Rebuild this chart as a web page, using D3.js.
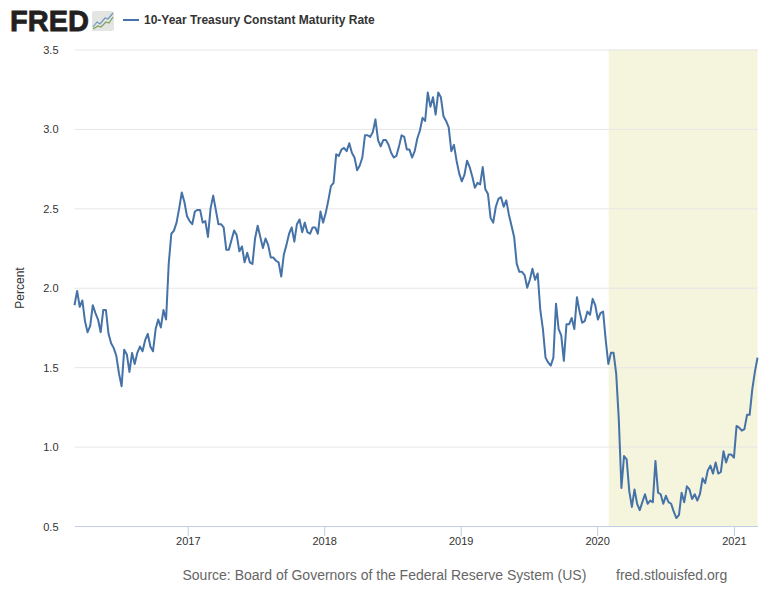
<!DOCTYPE html>
<html>
<head>
<meta charset="utf-8">
<script src="https://cdn.jsdelivr.net/npm/d3@7"></script>
<style>
  html, body { margin: 0; padding: 0; background: #fff; }
  text { font-family: "Liberation Sans", Arial, sans-serif; }
  .tick text { font-size: 11px; fill: #333; }
</style>
</head>
<body>
<div id="graph"></div>
<script>
// weekly readings, first one is the Friday below
const firstWeek = "2016-03-04";
const seriesName = "10-Year Treasury Constant Maturity Rate";
const values2016 = [1.89,1.98,1.88,1.92,1.79,1.72,1.76,1.89,1.84,1.80,
  1.72,1.86,1.86,1.71,1.65,1.62,1.57,1.46,1.38,1.61,
  1.58,1.47,1.59,1.52,1.59,1.63,1.60,1.67,1.71,1.63,
  1.60,1.74,1.80,1.75,1.86,1.80,2.15,2.34,2.36,2.41,2.50];
const values2017 = [2.60,2.54,2.45,2.42,2.40,2.48,2.49,2.49,2.41,2.42,
  2.32,2.50,2.58,2.49,2.40,2.40,2.38,2.24,2.24,2.30,
  2.36,2.33,2.23,2.26,2.16,2.22,2.16,2.15,2.31,2.39,
  2.32,2.25,2.31,2.27,2.19,2.19,2.17,2.16,2.07,2.21,
  2.27,2.34,2.38,2.29,2.40,2.43,2.35,2.41,2.35,2.34,
  2.38,2.38,2.34,2.48,2.41,2.47,2.55,2.64,2.66];
const values2018 = [2.84,2.83,2.87,2.88,2.86,2.91,2.85,2.82,2.74,2.77,
  2.82,2.96,2.96,2.95,2.98,3.06,2.93,2.89,2.93,2.93,
  2.90,2.85,2.82,2.83,2.89,2.96,2.95,2.87,2.87,2.82,
  2.86,2.94,2.99,3.07,3.05,3.23,3.14,3.20,3.09,3.23,
  3.20,3.08,3.05,3.01,2.86,2.90,2.80,2.72,2.67,2.71,
  2.80,2.76,2.70,2.63,2.66,2.65,2.76,2.62,2.59];
const values2019 = [2.44,2.41,2.51,2.56,2.57,2.51,2.55,2.46,2.39,2.32,
  2.15,2.10,2.10,2.08,2.00,2.05,2.12,2.05,2.09,1.86,
  1.74,1.56,1.53,1.51,1.56,1.90,1.74,1.70,1.54,1.77,
  1.77,1.81,1.74,1.94,1.85,1.78,1.79,1.85,1.83,1.93,
  1.89,1.80,1.84,1.85,1.67];
const values2020 = [1.52,1.59,1.59,1.46,1.17,0.74,0.94,0.92,0.72,0.62,
  0.73,0.64,0.60,0.65,0.70,0.64,0.66,0.65,0.91,0.71,
  0.70,0.64,0.69,0.65,0.64,0.59,0.55,0.57,0.71,0.65,
  0.75,0.73,0.67,0.70,0.66,0.70,0.80,0.77,0.85,0.88,
  0.83,0.90,0.83,0.84,0.97,0.90,0.95,0.95,0.93,1.13,
  1.12,1.10,1.11,1.20,1.20,1.36,1.47,1.56];
const yTicks = [0.5, 1.0, 1.5, 2.0, 2.5, 3.0, 3.5];
const recession = ["2020-02-01", "2021-03-05"];

const rates = [...values2016, ...values2017, ...values2018, ...values2019, ...values2020];
const parseDay = d3.utcParse("%Y-%m-%d");
const weeks = rates.map((d, i) => d3.utcDay.offset(parseDay(firstWeek), i * 7));

const width = 778, height = 600;
const plot = {left: 74.5, right: 757.5, top: 49.5, bottom: 526};

const svg = d3.select("#graph").append("svg")
  .attr("width", width)
  .attr("height", height)
  .style("display", "block");

const xScale = d3.scaleUtc()
  .domain([parseDay(firstWeek), parseDay(recession[1])])
  .range([plot.left, plot.right]);
const yScale = d3.scaleLinear()
  .domain([0.5, 3.5])
  .range([plot.bottom, plot.top]);

// recession band goes under the grid
svg.append("rect")
  .attr("x", xScale(parseDay(recession[0])))
  .attr("y", plot.top)
  .attr("width", xScale(parseDay(recession[1])) - xScale(parseDay(recession[0])))
  .attr("height", plot.bottom - plot.top)
  .attr("fill", "#f5f4dd");

// y axis with grid lines
const yAxis = svg.append("g")
  .attr("transform", `translate(${plot.left},0)`)
  .call(d3.axisLeft(yScale).tickValues(yTicks).tickFormat(d3.format(".1f"))
    .tickSize(-(plot.right - plot.left)).tickPadding(16));
yAxis.select(".domain").remove();
yAxis.selectAll("line").attr("stroke", "#e6e6e6");
yAxis.selectAll(".tick").filter(d => d === 0.5).select("line").remove();
yAxis.selectAll("text").attr("y", 0.5);

// x axis
const xAxis = svg.append("g")
  .attr("transform", `translate(0,${plot.bottom})`)
  .call(d3.axisBottom(xScale).ticks(d3.utcYear.every(1)).tickFormat(d3.utcFormat("%Y"))
    .tickSize(10).tickSizeOuter(0).tickPadding(1));
xAxis.select(".domain").attr("stroke", "#c0d0e0");
xAxis.selectAll("line").attr("stroke", "#c0d0e0");

// the series
const line = d3.line()
  .x((d, i) => xScale(weeks[i]))
  .y(d => yScale(d));
svg.append("path")
  .datum(rates)
  .attr("fill", "none")
  .attr("stroke", "#4572a7")
  .attr("stroke-width", 2)
  .attr("stroke-linejoin", "round")
  .attr("d", line);

// y label
svg.append("text")
  .attr("transform", "translate(24,288) rotate(-90)")
  .attr("text-anchor", "middle")
  .attr("font-size", 12)
  .attr("fill", "#333")
  .text("Percent");

// logo
svg.append("text")
  .attr("x", 10)
  .attr("y", 31)
  .attr("font-size", 29)
  .attr("font-weight", "bold")
  .attr("fill", "#231f20")
  .attr("stroke", "#231f20")
  .attr("stroke-width", 0.8)
  .text("FRED");
const logo = svg.append("g").attr("transform", "translate(92,11)");
logo.append("rect")
  .attr("width", 22).attr("height", 20).attr("rx", 2)
  .attr("fill", "#e4e4e2");
logo.append("polyline")
  .attr("points", "1,16 5,11 8,13 13,7 16,8 21,2")
  .attr("fill", "none").attr("stroke", "#6f97bd").attr("stroke-width", 1.2);
logo.append("polyline")
  .attr("points", "1,18 6,15 9,16 14,11 17,12 21,6")
  .attr("fill", "none").attr("stroke", "#7da35a").attr("stroke-width", 1.2);

// legend
svg.append("line")
  .attr("x1", 123).attr("x2", 139)
  .attr("y1", 20).attr("y2", 20)
  .attr("stroke", "#4572a7").attr("stroke-width", 2);
svg.append("text")
  .attr("x", 144)
  .attr("y", 24)
  .attr("font-size", 12)
  .attr("font-weight", "bold")
  .attr("fill", "#333")
  .text(seriesName);

// source lines
svg.append("text")
  .attr("x", 182.5)
  .attr("y", 580)
  .attr("font-size", 14)
  .attr("fill", "#666")
  .text("Source: Board of Governors of the Federal Reserve System (US)");
svg.append("text")
  .attr("x", 616)
  .attr("y", 580)
  .attr("font-size", 14)
  .attr("fill", "#666")
  .text("fred.stlouisfed.org");
</script>
</body>
</html>
